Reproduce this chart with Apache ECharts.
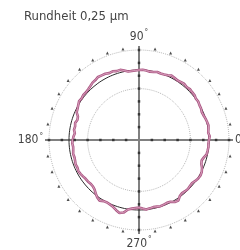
<!DOCTYPE html>
<html><head><meta charset="utf-8">
<script src="https://cdn.jsdelivr.net/npm/echarts@6/dist/echarts.min.js"></script>
<style>html,body{margin:0;padding:0;background:#fff}#c{width:240px;height:250px}</style>
</head><body><div id="c"></div>
<script>
// profile angles (deg) and measured radius (scale units)
const profileAngles = [0,3,6,9,12,15,18,21,24,27,30,33,36,39,42,45,48,51,54,57,60,63,66,69,72,75,78,81,84,87,90,93,96,99,102,105,108,111,114,117,120,123,126,129,132,135,138,141,144,147,150,153,156,159,162,165,168,171,174,177,180,183,186,189,192,195,198,201,204,207,210,213,216,219,222,225,228,231,234,237,240,243,246,249,252,255,258,261,264,267,270,273,276,279,282,285,288,291,294,297,300,303,306,309,312,315,318,321,324,327,330,333,336,339,342,345,348,351,354,357,360];
const profileRadius = [70.0,70.8,69.6,70.3,71.0,70.4,69.8,69.0,68.7,69.6,69.8,70.6,70.3,71.4,71.5,72.0,71.2,72.1,71.6,71.0,71.5,72.2,70.8,70.2,69.9,70.4,69.5,69.2,69.8,70.3,70.0,69.6,69.4,69.3,71.0,72.6,72.4,73.6,73.2,74.3,74.6,75.2,74.1,73.8,72.6,71.8,71.3,71.6,70.9,71.4,70.1,69.0,68.2,65.4,64.8,66.1,65.3,65.8,64.5,65.6,66.3,66.8,66.2,66.6,67.3,66.8,67.2,67.9,67.5,68.1,67.6,66.8,66.0,65.8,65.2,65.4,66.5,68.8,71.0,72.3,70.6,70.2,70.8,71.8,73.8,75.6,74.2,70.4,69.0,68.2,67.6,68.7,69.8,69.2,68.6,69.0,69.6,69.2,68.8,69.3,71.6,72.2,69.4,68.4,68.9,69.2,68.6,68.3,69.6,70.6,71.0,70.4,69.0,66.8,65.9,67.2,69.1,69.4,69.8,69.5,70.0];
const fitRadius = 70;
const ringRadii = [51.4, 90];
const armTickRadii = [12.9, 25.7, 38.6, 51.4, 64.3, 77.1, 90];
const armAngles = [0, 90, 180, 270];
const markerRadius = 92.5;
const markerAngles = [10,20,30,40,50,60,70,80,100,110,120,130,140,150,160,170,190,200,210,220,230,240,250,260,280,290,300,310,320,330,340,350];
const circleAngles = [];
for (let a = 0; a <= 360; a += 2) circleAngles.push(a);
const axisLabels = {0:'0',90:'90',180:'180',270:'270'};

const FONT = '"Liberation Sans Narrow","Arial Narrow","DejaVu Sans Condensed",sans-serif';
const chart = echarts.init(document.getElementById('c'), null, {renderer:'canvas'});
const profile = profileAngles.map((a,i)=>[profileRadius[i], a]);
const series = [];
ringRadii.forEach(r => series.push({type:'line', coordinateSystem:'polar', symbol:'none', silent:true,
  data: circleAngles.map(a=>[r,a]), lineStyle:{color:'#b8b8b8', width:1, type:'dotted'}, z:1}));
series.push({type:'line', coordinateSystem:'polar', symbol:'none', silent:true,
  data: circleAngles.map(a=>[fitRadius,a]), lineStyle:{color:'#2a2a2a', width:1}, z:3});
series.push({type:'line', coordinateSystem:'polar', symbol:'none', silent:true,
  data: profile, lineStyle:{color:'#ad5a86', width:2.6}, z:4});
series.push({type:'line', coordinateSystem:'polar', symbol:'none', silent:true,
  data: profile, lineStyle:{color:'#dba6c1', width:0.9}, z:4});
const ticks = [];
armAngles.forEach(a => armTickRadii.forEach(r => ticks.push([r,a])));
series.push({type:'scatter', coordinateSystem:'polar', symbol:'rect', symbolSize:[2.5,2.5], silent:true,
  data: ticks, itemStyle:{color:'#222'}, z:5});
series.push({type:'scatter', coordinateSystem:'polar', symbol:'triangle', symbolSize:3, silent:true,
  data: markerAngles.map(a=>[markerRadius,a]), itemStyle:{color:'#222'}, z:5});

chart.setOption({
  animation:false,
  title:{text:'Rundheit 0,25 µm', left:19, top:5, textStyle:{fontFamily:FONT, fontSize:13, fontWeight:'normal', color:'#444'}},
  polar:{center:[139,140], radius:94},
  angleAxis:{type:'value', min:0, max:360, interval:90, startAngle:0, clockwise:false,
    axisLine:{show:false}, axisTick:{show:false},
    splitLine:{show:true, lineStyle:{color:'#808080', width:2}},
    axisLabel:{margin:2, fontFamily:FONT, color:'#444',
      formatter:v => axisLabels[v] !== undefined ? '{a|'+axisLabels[v]+'}{d|°}' : '',
      rich:{a:{fontFamily:FONT, fontSize:12, color:'#444'}, d:{fontFamily:FONT, fontSize:8, color:'#444', padding:[0,0,7,1]}}}},
  radiusAxis:{type:'value', min:0, max:94, axisLine:{show:false}, axisTick:{show:false}, axisLabel:{show:false}, splitLine:{show:false}},
  series
});
</script></body></html>
